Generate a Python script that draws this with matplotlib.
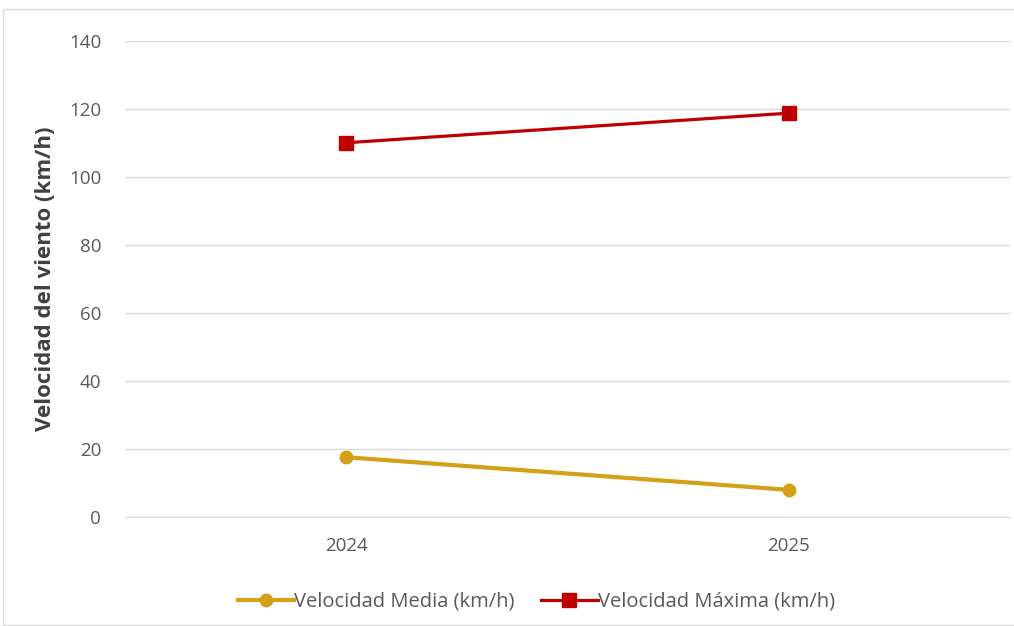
import matplotlib.pyplot as plt
from matplotlib.patches import Rectangle

years = ["2024", "2025"]
vel_media = [17.6, 8.0]
vel_maxima = [110, 118.7]

plt.rcParams['font.family'] = ['Open Sans', 'DejaVu Sans']

fig = plt.figure(figsize=(10.14, 6.26), dpi=100)
ax = fig.add_axes([0.123, 0.174, 0.873, 0.761])

# outer chart border (light gray frame)
fig.patches.append(Rectangle((3 / 1014, 1 / 626), 1.2, 616 / 626,
                             transform=fig.transFigure, fill=False,
                             edgecolor='#d9d9d9', linewidth=1.0))

x = range(len(years))
ax.plot(x, vel_media, color='#D4A017', linewidth=3.0, marker='o',
        markersize=9, label='Velocidad Media (km/h)', zorder=3)
ax.plot(x, vel_maxima, color='#C00000', linewidth=2.3, marker='s',
        markersize=10, label='Velocidad Máxima (km/h)', zorder=3)

ax.set_xlim(-0.5, 1.5)
ax.set_ylim(0, 140)
ax.set_yticks(range(0, 141, 20))
ax.set_xticks(list(x))
ax.set_xticklabels(years)

ax.grid(axis='y', color='#d9d9d9', linewidth=1.0)
ax.set_axisbelow(True)
for side in ['top', 'right', 'left']:
    ax.spines[side].set_visible(False)
ax.spines['bottom'].set_color('#d9d9d9')
ax.tick_params(axis='both', length=0, labelsize=13.5, colors='#595959')
ax.tick_params(axis='x', pad=14)
ax.tick_params(axis='y', pad=17)

ax.set_ylabel('Velocidad del viento (km/h)', fontsize=16, fontweight='bold',
              color='#404040', labelpad=9)

ax.legend(loc='center', bbox_to_anchor=(0.465, -0.178), ncol=2, frameon=False,
          fontsize=14.5, labelcolor='#595959', handlelength=2.8,
          handletextpad=0.0, columnspacing=1.3)

fig.savefig('out.png', dpi=100)
